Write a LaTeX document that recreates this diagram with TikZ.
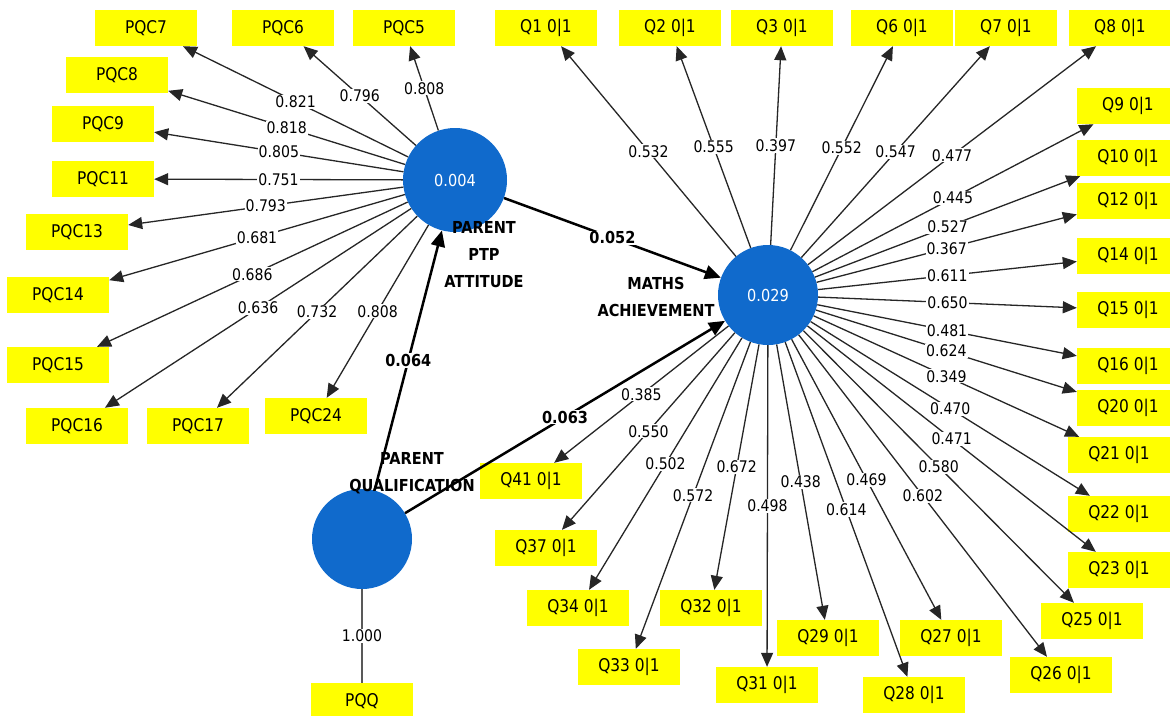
\documentclass[tikz,border=0pt]{standalone}
\usepackage{fontspec}
\setmainfont{DejaVu Sans}[FakeStretch=0.88]
\usetikzlibrary{arrows.meta}
\definecolor{lvblue}{RGB}{16,106,204}
\definecolor{mvyellow}{RGB}{255,255,0}
\tikzset{
  mvbox/.style={fill=mvyellow, minimum width=102pt, minimum height=36pt, inner sep=0pt, font=\fontsize{17.5}{19}\selectfont},
  lvnode/.style={circle, fill=lvblue, minimum size=100pt, inner sep=0pt, text=white, font=\fontsize{16.5}{18}\selectfont},
  lvname/.style={align=center, font=\bfseries\fontsize{16.5}{27}\selectfont},
  ldarrow/.style={draw=black!85, line width=1.3pt, -{Triangle[length=14pt,width=12pt]}},
  patharrow/.style={draw=black, line width=2.5pt, -{Triangle[length=16pt,width=14pt]}},
  ldval/.style={fill=white, inner sep=1pt, font=\fontsize{16}{18}\selectfont},
  pathval/.style={fill=white, inner sep=1pt, font=\bfseries\fontsize{16.5}{18}\selectfont},
}
\begin{document}
\begin{tikzpicture}[x=1pt,y=-1pt]
        \fill[white] (0,0) rectangle (1170,715);
        \useasboundingbox (0,0) rectangle (1170,715);
        % latent variables
        \node[lvnode, minimum size=104pt] (ptp) at (455,180) {0.004};
        \node[lvnode] (ma) at (768,295) {0.029};
        \node[lvnode] (pq) at (362,539) {};
        \node[lvname] (ptpname) at (484,255) {PARENT\\PTP\\ATTITUDE};
        \node[lvname] (maname) at (656,297) {MATHS\\ACHIEVEMENT};
        \node[lvname] (pqname) at (412,473) {PARENT\\QUALIFICATION};
        % indicators of parent attitude
        \node[mvbox] (pqc7) at (146,28) {PQC7};
        \node[mvbox] (pqc6) at (283,28) {PQC6};
        \node[mvbox] (pqc5) at (404,28) {PQC5};
        \node[mvbox] (pqc8) at (117,75) {PQC8};
        \node[mvbox] (pqc9) at (103,124) {PQC9};
        \node[mvbox] (pqc11) at (103,179) {PQC11};
        \node[mvbox] (pqc13) at (77,232) {PQC13};
        \node[mvbox] (pqc14) at (58,295) {PQC14};
        \node[mvbox] (pqc15) at (58,365) {PQC15};
        \node[mvbox] (pqc16) at (77,426) {PQC16};
        \node[mvbox] (pqc17) at (198,426) {PQC17};
        \node[mvbox] (pqc24) at (316,416) {PQC24};
        \node[mvbox] (pqq) at (362,701) {PQQ};
        % indicators of maths achievement
        \node[mvbox] (q1) at (546,28) {Q1 0|1};
        \node[mvbox] (q2) at (670,28) {Q2 0|1};
        \node[mvbox] (q3) at (782,28) {Q3 0|1};
        \node[mvbox] (q6) at (902,28) {Q6 0|1};
        \node[mvbox] (q7) at (1006,28) {Q7 0|1};
        \node[mvbox] (q8) at (1120,28) {Q8 0|1};
        \node[mvbox] (q9) at (1128,106) {Q9 0|1};
        \node[mvbox] (q10) at (1128,158) {Q10 0|1};
        \node[mvbox] (q12) at (1128,201) {Q12 0|1};
        \node[mvbox] (q14) at (1128,256) {Q14 0|1};
        \node[mvbox] (q15) at (1128,310) {Q15 0|1};
        \node[mvbox] (q16) at (1128,366) {Q16 0|1};
        \node[mvbox] (q20) at (1128,408) {Q20 0|1};
        \node[mvbox] (q21) at (1119,455) {Q21 0|1};
        \node[mvbox] (q22) at (1119,514) {Q22 0|1};
        \node[mvbox] (q23) at (1119,570) {Q23 0|1};
        \node[mvbox] (q25) at (1092,621) {Q25 0|1};
        \node[mvbox] (q26) at (1061,675) {Q26 0|1};
        \node[mvbox] (q27) at (951,638) {Q27 0|1};
        \node[mvbox] (q28) at (914,695) {Q28 0|1};
        \node[mvbox] (q29) at (828,638) {Q29 0|1};
        \node[mvbox] (q31) at (767,685) {Q31 0|1};
        \node[mvbox] (q32) at (711,608) {Q32 0|1};
        \node[mvbox] (q33) at (629,667) {Q33 0|1};
        \node[mvbox] (q34) at (578,608) {Q34 0|1};
        \node[mvbox] (q37) at (546,548) {Q37 0|1};
        \node[mvbox] (q41) at (531,481) {Q41 0|1};
        % loadings, parent attitude
        \draw[ldarrow] (ptp) -- (pqc7) node[ldval, midway] {0.821};
        \draw[ldarrow] (ptp) -- (pqc6) node[ldval, midway] {0.796};
        \draw[ldarrow] (ptp) -- (pqc5) node[ldval, midway] {0.808};
        \draw[ldarrow] (ptp) -- (pqc8) node[ldval, midway] {0.818};
        \draw[ldarrow] (ptp) -- (pqc9) node[ldval, midway] {0.805};
        \draw[ldarrow] (ptp) -- (pqc11) node[ldval, midway] {0.751};
        \draw[ldarrow] (ptp) -- (pqc13) node[ldval, midway] {0.793};
        \draw[ldarrow] (ptp) -- (pqc14) node[ldval, midway] {0.681};
        \draw[ldarrow] (ptp) -- (pqc15) node[ldval, midway] {0.686};
        \draw[ldarrow] (ptp) -- (pqc16) node[ldval, midway] {0.636};
        \draw[ldarrow] (ptp) -- (pqc17) node[ldval, midway] {0.732};
        \draw[ldarrow] (ptp) -- (pqc24) node[ldval, midway] {0.808};
        \draw[draw=black!65, line width=1.5pt] (pq) -- (pqq) node[ldval, midway] {1.000};
        % loadings, maths achievement
        \draw[ldarrow] (ma) -- (q1) node[ldval, midway] {0.532};
        \draw[ldarrow] (ma) -- (q2) node[ldval, midway] {0.555};
        \draw[ldarrow] (ma) -- (q3) node[ldval, midway] {0.397};
        \draw[ldarrow] (ma) -- (q6) node[ldval, midway] {0.552};
        \draw[ldarrow] (ma) -- (q7) node[ldval, midway] {0.547};
        \draw[ldarrow] (ma) -- (q8) node[ldval, midway] {0.477};
        \draw[ldarrow] (ma) -- (q9) node[ldval, midway] {0.445};
        \draw[ldarrow] (ma) -- (q10) node[ldval, midway] {0.527};
        \draw[ldarrow] (ma) -- (q12) node[ldval, midway] {0.367};
        \draw[ldarrow] (ma) -- (q14) node[ldval, midway] {0.611};
        \draw[ldarrow] (ma) -- (q15) node[ldval, midway] {0.650};
        \draw[ldarrow] (ma) -- (q16) node[ldval, midway] {0.481};
        \draw[ldarrow] (ma) -- (q20) node[ldval, midway] {0.624};
        \draw[ldarrow] (ma) -- (q21) node[ldval, midway] {0.349};
        \draw[ldarrow] (ma) -- (q22) node[ldval, midway] {0.470};
        \draw[ldarrow] (ma) -- (q23) node[ldval, midway] {0.471};
        \draw[ldarrow] (ma) -- (q25) node[ldval, midway] {0.580};
        \draw[ldarrow] (ma) -- (q26) node[ldval, midway] {0.602};
        \draw[ldarrow] (ma) -- (q27) node[ldval, midway] {0.469};
        \draw[ldarrow] (ma) -- (q28) node[ldval, midway] {0.614};
        \draw[ldarrow] (ma) -- (q29) node[ldval, midway] {0.438};
        \draw[ldarrow] (ma) -- (q31) node[ldval, midway] {0.498};
        \draw[ldarrow] (ma) -- (q32) node[ldval, midway] {0.672};
        \draw[ldarrow] (ma) -- (q33) node[ldval, midway] {0.572};
        \draw[ldarrow] (ma) -- (q34) node[ldval, midway] {0.502};
        \draw[ldarrow] (ma) -- (q37) node[ldval, midway] {0.550};
        \draw[ldarrow] (ma) -- (q41) node[ldval, midway] {0.385};
        % path coefficients
        \draw[patharrow] (pq) -- (ptp) node[pathval, midway] {0.064};
        \draw[patharrow] (ptp) -- (ma) node[pathval, midway] {0.052};
        \draw[patharrow] (pq) -- (ma) node[pathval, midway] {0.063};
\end{tikzpicture}
\end{document}
